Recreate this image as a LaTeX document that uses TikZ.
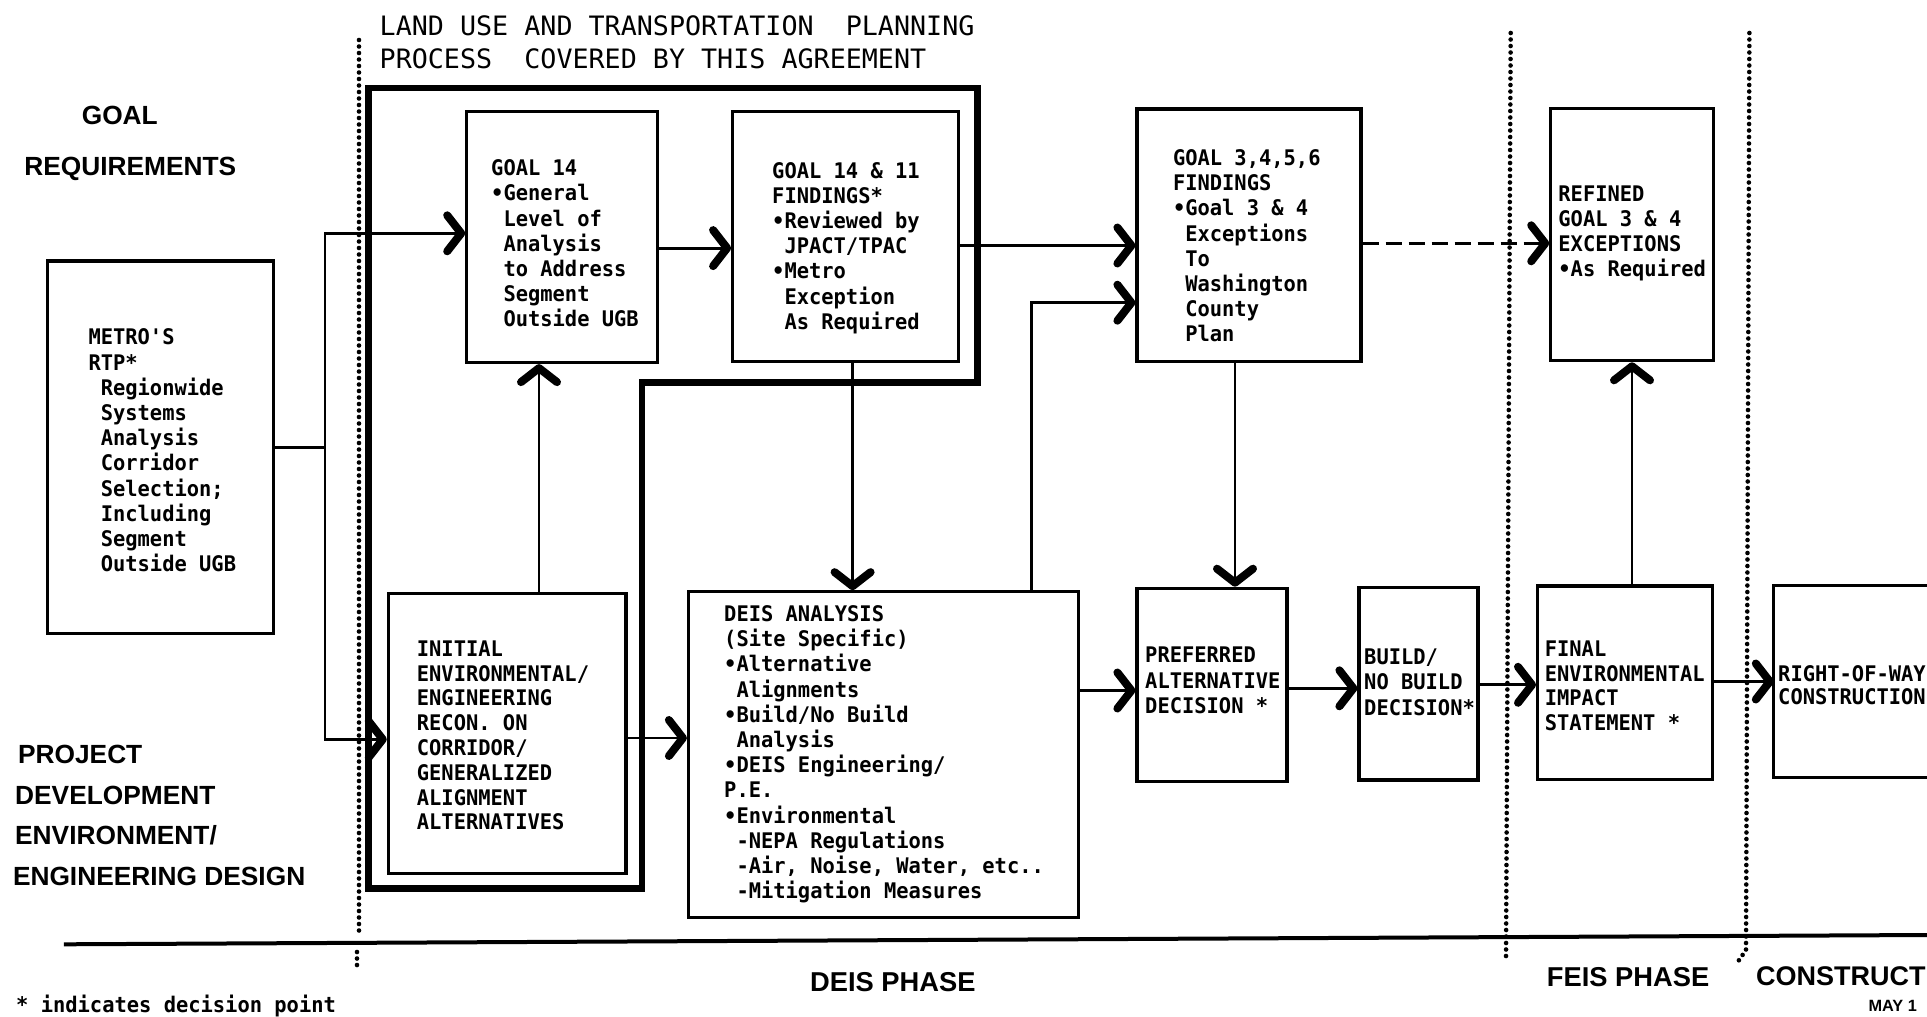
\documentclass[tikz,border=0pt]{standalone}
\usepackage{fontspec}
\newfontfamily\boxfont{DejaVu Sans Mono}[UprightFont={* Bold},FakeStretch=0.95]
\newfontfamily\ttlfont{DejaVu Sans Mono}
\newfontfamily\labfont{Liberation Sans}[UprightFont={* Bold}]
\usetikzlibrary{arrows.meta}
\tikzset{
  box/.style={draw, line width=3.2pt, rectangle, inner sep=0pt},
  txt/.style={font={\boxfont\fontsize{21.5}{25.2}\selectfont}, inner sep=0pt, align=left, anchor=north west},
  lab/.style={font={\labfont\fontsize{26.3}{30}\selectfont}, inner sep=0pt, anchor=base west},
  phase/.style={font={\labfont\fontsize{27.3}{30}\selectfont}, inner sep=0pt, anchor=base west},
  ttl/.style={font={\ttlfont\fontsize{26.7}{33.6}\selectfont}, inner sep=0pt, align=left, anchor=north west},
  ln/.style={line width=2.8pt},
  arr/.style={ln, -{Straight Barb[length=14pt,width=36pt,line width=8pt,round]}},
  dashedarr/.style={arr, dash pattern=on 16pt off 7pt, line width=3.4pt},
  dotline/.style={line width=4.6pt, line cap=round, dash pattern=on 0pt off 6.5pt},
  thickline/.style={line width=6.7pt, line join=miter},
}
\begin{document}
\begin{tikzpicture}[x=1pt,y=-1pt]
\fill[white] (0,0) rectangle (1927,1017);
\useasboundingbox (0,0) rectangle (1927,1017);

% title
\node[ttl] (title) at (379.5,15) {LAND USE AND TRANSPORTATION~~PLANNING\\PROCESS~~COVERED BY THIS AGREEMENT};

% row labels
\node[lab] (lgoal) at (81.6,124) {GOAL};
\node[lab] (lreq) at (24.2,175) {REQUIREMENTS};
\node[lab] (lproj) at (17.9,763) {PROJECT};
\node[lab] (ldev) at (15,804) {DEVELOPMENT};
\node[lab] (lenv) at (15,844) {ENVIRONMENT/};
\node[lab] (leng) at (12.8,885) {ENGINEERING DESIGN};

% phase labels
\node[phase] (pdeis) at (810,991.7) {DEIS PHASE};
\node[phase] (pfeis) at (1546.7,986.7) {FEIS PHASE};
\node[phase, font={\labfont\fontsize{27}{30}\selectfont}] (pcon) at (1756,985) {CONSTRUCT};
\node[lab, font={\labfont\fontsize{16.3}{20}\selectfont}] (may) at (1868.3,1011.7) {MAY 1};
\node[txt, anchor=base west] (note) at (16,1012) {* indicates decision point};

% phase separators
\draw[dotline] (359,40) -- (359,937);
\draw[dotline] (357,952) -- (357,966);
\draw[dotline] (1510.7,33) -- (1506,957);
\draw[dotline] (1749.4,33) -- (1746,950) -- (1737,963);
\draw[line width=4pt] (63.8,944.3) -- (1927,935);

% outline of the process covered by the agreement
\draw[thickline] (368.6,88) -- (977.7,88) -- (977.7,382.5) -- (642,382.5) -- (642,888.3) -- (368.6,888.3) -- cycle;

% boxes
\node[box, minimum width=225.7pt, minimum height=372.3pt] (metro) at (160.6,447.2) {};
\node[box, minimum width=190.4pt, minimum height=250.8pt] (g14) at (562,237.1) {};
\node[box, minimum width=225.8pt, minimum height=249.5pt] (g1411) at (845.6,236.5) {};
\node[box, minimum width=224pt, minimum height=252.7pt] (g3456) at (1249,235.4) {};
\node[box, minimum width=162.8pt, minimum height=252.4pt] (refined) at (1632.2,234.5) {};
\node[box, minimum width=237.7pt, minimum height=280pt] (initial) at (507.2,733.3) {};
\node[box, minimum width=389.8pt, minimum height=325.5pt] (deis) at (883.4,754.5) {};
\node[box, minimum width=150pt, minimum height=193.4pt] (pref) at (1212,685) {};
\node[box, minimum width=119pt, minimum height=192.7pt] (build) at (1418.5,683.7) {};
\node[box, minimum width=174.8pt, minimum height=193.6pt] (final) at (1625,682.8) {};
\node[inner sep=0pt, minimum width=153pt, minimum height=191pt] (row) at (1850.5,681.5) {};
\draw[line width=3.2pt] (row.north east) -- (row.north west) -- (row.south west) -- (row.south east);

% box texts
\node[txt] (tmetro) at (88.3,328.8) {METRO'S\\RTP*\\~Regionwide\\~Systems\\~Analysis\\~Corridor\\~Selection;\\~Including\\~Segment\\~Outside UGB};
\node[txt] (tg14) at (491,159.6) {GOAL 14\\•General\\~Level of\\~Analysis\\~to Address\\~Segment\\~Outside UGB};
\node[txt] (tg1411) at (772,162) {GOAL 14 \& 11\\FINDINGS*\\•Reviewed by\\~JPACT/TPAC\\•Metro\\~Exception\\~As Required};
\node[txt] (tg3456) at (1172.8,149.4) {GOAL 3,4,5,6\\FINDINGS\\•Goal 3 \& 4\\~Exceptions\\~To\\~Washington\\~County\\~Plan};
\node[txt] (trefined) at (1558.2,185.4) {REFINED\\GOAL 3 \& 4\\EXCEPTIONS\\•As Required};
\node[txt, font={\boxfont\fontsize{21.5}{24.8}\selectfont}] (tinitial) at (416.7,640.4) {INITIAL\\ENVIRONMENTAL/\\ENGINEERING\\RECON. ON\\CORRIDOR/\\GENERALIZED\\ALIGNMENT\\ALTERNATIVES};
\node[txt] (tdeis) at (724,605.4) {DEIS ANALYSIS\\(Site Specific)\\•Alternative\\~Alignments\\•Build/No Build\\~Analysis\\•DEIS Engineering/\\P.E.\\•Environmental\\~-NEPA Regulations\\~-Air, Noise, Water, etc..\\~-Mitigation Measures};
\node[txt] (tpref) at (1145,647.1) {PREFERRED\\ALTERNATIVE\\DECISION *};
\node[txt] (tbuild) at (1364,648.8) {BUILD/\\NO BUILD\\DECISION*};
\node[txt, font={\boxfont\fontsize{21.5}{24.5}\selectfont}] (tfinal) at (1544.6,641.1) {FINAL\\ENVIRONMENTAL\\IMPACT\\STATEMENT *};
\node[txt, font={\boxfont\fontsize{21.5}{23.4}\selectfont}] (trow) at (1778,665.4) {RIGHT-OF-WAY\\CONSTRUCTION};

% connectors
\coordinate (jn) at (325,447.2);
\draw[ln] (metro.east) -- (jn);
\draw[arr] (jn) |- ([yshift=3.8pt]g14.west);
\draw[arr] (jn) |- ([yshift=-6pt]initial.west);
\draw[arr] ([yshift=-11pt]g14.east) -- ([yshift=-11pt]g14.east -| g1411.west);
\draw[arr] ([yshift=-9pt]g1411.east) -- ([yshift=-9pt]g1411.east -| g3456.west);
\draw[arr] ([xshift=-23pt]g14.south |- initial.north) -- ([xshift=-23pt]g14.south);
\draw[arr] ([xshift=7pt]g1411.south) -- ([xshift=7pt]g1411.south |- deis.north);
\draw[arr] ([xshift=148.3pt]deis.north) |- ([yshift=-67.3pt]g3456.west);
\draw[arr] ([yshift=-4.7pt]initial.east) -- ([yshift=-4.7pt]initial.east -| deis.west);
\draw[arr] ([yshift=-5.5pt]pref.west -| deis.east) -- ([yshift=-5.5pt]pref.west);
\draw[arr] ([xshift=-14pt]g3456.south) -- ([xshift=-14pt]g3456.south |- pref.north);
\draw[dashedarr] ([yshift=-8.8pt]refined.west -| g3456.east) -- ([yshift=-8.8pt]refined.west);
\draw[arr] ([yshift=-4.6pt]build.west -| pref.east) -- ([yshift=-4.6pt]build.west);
\draw[arr] ([yshift=-2pt]final.west -| build.east) -- ([yshift=-2pt]final.west);
\draw[arr] (final.east |- row.west) -- (row.west);
\draw[arr] ([xshift=7pt]final.north) -- ([xshift=7pt]final.north |- refined.south);
\end{tikzpicture}
\end{document}
